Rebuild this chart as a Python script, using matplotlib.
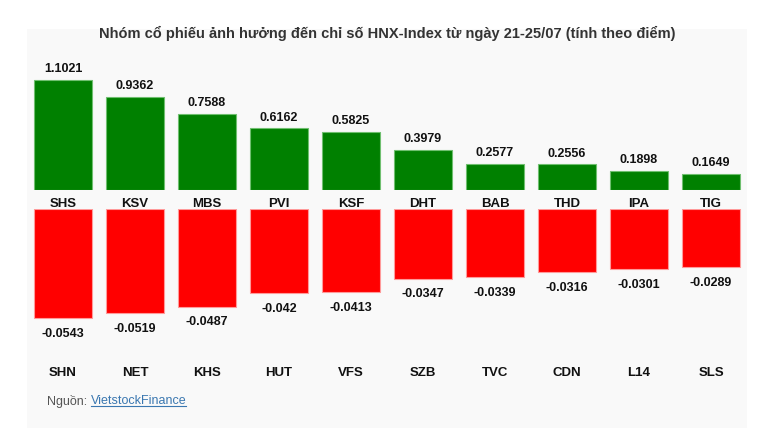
import numpy as np
import matplotlib.pyplot as plt
from matplotlib.lines import Line2D

plt.rcParams['font.family'] = ['Liberation Sans', 'DejaVu Sans']

# data
tang_ma = ['SHS', 'KSV', 'MBS', 'PVI', 'KSF', 'DHT', 'BAB', 'THD', 'IPA', 'TIG']
tang_diem = [1.1021, 0.9362, 0.7588, 0.6162, 0.5825, 0.3979, 0.2577, 0.2556, 0.1898, 0.1649]
giam_ma = ['SHN', 'NET', 'KHS', 'HUT', 'VFS', 'SZB', 'TVC', 'CDN', 'L14', 'SLS']
giam_diem = [-0.0543, -0.0519, -0.0487, -0.042, -0.0413, -0.0347, -0.0339, -0.0316, -0.0301, -0.0289]
giam_nhan = ['-0.0543', '-0.0519', '-0.0487', '-0.042', '-0.0413',
             '-0.0347', '-0.0339', '-0.0316', '-0.0301', '-0.0289']

W, H = 772, 437
fig = plt.figure(figsize=(W / 100, H / 100), dpi=100)

def box(x0, y0, x1, y1):
    # pixel box (top-left origin) -> figure fraction rect
    return [x0 / W, 1 - y1 / H, (x1 - x0) / W, (y1 - y0) / H]

# light panel background
axbg = fig.add_axes(box(27, 29, 747, 428), zorder=-5)
axbg.set_facecolor('#f9f9f9')
axbg.set_xticks([])
axbg.set_yticks([])
for s in axbg.spines.values():
    s.set_visible(False)

x = np.arange(len(tang_ma))

# top panel: gains
ax1 = fig.add_axes(box(27, 60, 747, 190))
ax1.bar(x, tang_diem, width=0.806, color='#008000', edgecolor='#6fbf6f', linewidth=0.8)
ax1.set_xlim(-0.5, 9.5)
ax1.set_ylim(0, 1.1021 * 130 / 110)
for i, v in enumerate(tang_diem):
    ax1.annotate(f'{v:.4f}', (i, v), xytext=(0, 3.5), textcoords='offset points',
                 ha='center', va='bottom', fontsize=9, fontweight='bold', color='#111111')
    ax1.annotate(tang_ma[i], (i, 0), xytext=(0, -10), textcoords='offset points',
                 ha='center', va='center', fontsize=9.5, fontweight='bold', color='#111111')
ax1.axis('off')

# bottom panel: losses
ax2 = fig.add_axes(box(27, 209, 747, 340))
ax2.bar(x, giam_diem, width=0.806, color='#ff0000', edgecolor='#ff9a9a', linewidth=0.8)
ax2.set_xlim(-0.5, 9.5)
ax2.set_ylim(-0.0543 * 131 / 109, 0)
for i, v in enumerate(giam_diem):
    ax2.annotate(giam_nhan[i], (i, v), xytext=(0, -11.3), textcoords='offset points',
                 ha='center', va='center', fontsize=9, fontweight='bold', color='#111111')
ax2.axis('off')

# bottom tickers
for i, m in enumerate(giam_ma):
    ax2.annotate(m, (i, 0), xytext=(0, -164 / 1.389), textcoords='offset points',
                 ha='center', va='center', fontsize=9.5, fontweight='bold', color='#111111',
                 annotation_clip=False)

fig.text(387 / W, 1 - 33 / H,
         'Nhóm cổ phiếu ảnh hưởng đến chỉ số HNX-Index từ ngày 21-25/07 (tính theo điểm)',
         ha='center', va='center', fontsize=10.5, fontweight='bold', color='#333333')

t1 = fig.text(47 / W, 1 - 401 / H, 'Nguồn: ', ha='left', va='center', fontsize=9, color='#555555')
fig.canvas.draw()
r = fig.canvas.get_renderer()
bb = t1.get_window_extent(r)
t2 = fig.text(bb.x1 / W, 1 - 401 / H, 'VietstockFinance', ha='left', va='center',
              fontsize=9, color='#3a77b0')
bb2 = t2.get_window_extent(r)
fig.lines.append(Line2D([bb2.x0 / W, bb2.x1 / W], [(bb2.y0 + 1) / H, (bb2.y0 + 1) / H],
                        transform=fig.transFigure, color='#3a77b0', linewidth=0.8))

fig.savefig('out.png', dpi=100)
